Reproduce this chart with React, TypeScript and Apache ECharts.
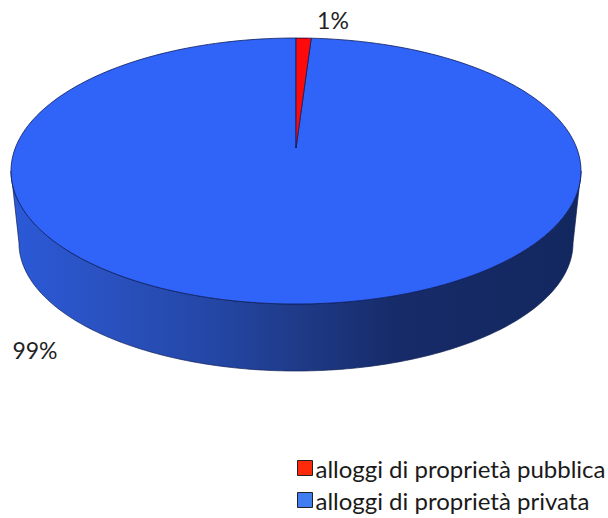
import React, { useEffect, useRef } from "react";
import * as echarts from "echarts";

const categories = ["alloggi di proprietà pubblica", "alloggi di proprietà privata"];
const shares = [0.85, 99.15];
const colors = ["#ff0a0a", "#3064f8"];
const legendColors = ["#ff2a0a", "#3f7df0"];
const labelAnchors = [[333, 20], [35, 350]];

const FONT = "Lato, 'Open Sans', sans-serif";
const TOP = { cx: 296, cy: 171, rx: 285, ry: 133 };
const BOTTOM = { cx: 296, cy: 243, rx: 277, ry: 128 };
const APEX: [number, number] = [296, 148];
const total = shares.reduce((a, b) => a + b, 0);

const onEllipse = (e: typeof TOP, t: number): [number, number] => [
  e.cx + e.rx * Math.sin(t),
  e.cy - e.ry * Math.cos(t),
];

const arc = (e: typeof TOP, from: number, to: number, steps = 240) => {
  const pts: [number, number][] = [];
  for (let i = 0; i <= steps; i++) pts.push(onEllipse(e, from + ((to - from) * i) / steps));
  return pts;
};

const sideGradient = () =>
  new echarts.graphic.LinearGradient(0, 0, 1, 0, [
    { offset: 0, color: "#2b59d8" },
    { offset: 0.15, color: "#2a52c2" },
    { offset: 0.35, color: "#2447a6" },
    { offset: 0.52, color: "#1e3985" },
    { offset: 0.68, color: "#162b68" },
    { offset: 1, color: "#13275f" },
  ]);

const makeSeries = (index: number) => {
  const start = (shares.slice(0, index).reduce((a, b) => a + b, 0) / total) * Math.PI * 2;
  return {
    type: "custom",
    name: categories[index],
    coordinateSystem: "none",
    z: index === 0 ? 3 : 2,
    silent: true,
    itemStyle: { color: legendColors[index] },
    data: [shares[index]],
    renderItem: (_p: unknown, api: any) => {
      const end = start + (api.value(0) / total) * Math.PI * 2;
      const children: any[] = [];
      if (index === 1) {
        const side = [
          ...arc(TOP, Math.PI / 2, (3 * Math.PI) / 2),
          ...arc(BOTTOM, (3 * Math.PI) / 2, Math.PI / 2),
        ];
        children.push({
          type: "polygon",
          shape: { points: side },
          style: { fill: sideGradient(), stroke: "#0f1f55", lineWidth: 0.7 },
        });
      }
      children.push({
        type: "polygon",
        shape: { points: [APEX, ...arc(TOP, start, end)] },
        style: { fill: colors[index], stroke: "#0b1c5e", lineWidth: 0.8 },
      });
      children.push({
        type: "text",
        style: {
          text: `${Math.round(api.value(0))}%`,
          x: labelAnchors[index][0],
          y: labelAnchors[index][1],
          align: "center",
          verticalAlign: "middle",
          fill: "#222222",
          font: `23px ${FONT}`,
        },
      });
      return { type: "group", children };
    },
  };
};

export default function App() {
  const ref = useRef<HTMLDivElement>(null);
  useEffect(() => {
    const chart = echarts.init(ref.current!, undefined, { renderer: "svg" });
    chart.setOption({
      animation: false,
      backgroundColor: "#ffffff",
      legend: {
        orient: "vertical",
        left: 297,
        top: 456,
        padding: 0,
        itemGap: 8,
        itemWidth: 15,
        itemHeight: 15,
        icon: "rect",
        selectedMode: false,
        data: categories,
        textStyle: { fontFamily: FONT, fontSize: 24, color: "#1a1a1a", padding: [0, 0, 3, -2] },
        itemStyle: { borderColor: "#222222", borderWidth: 1 },
      },
      series: categories.map((_, i) => makeSeries(i)),
    });
    return () => chart.dispose();
  }, []);
  return <div ref={ref} style={{ position: "absolute", left: 0, top: 0, width: 608, height: 518 }} />;
}
